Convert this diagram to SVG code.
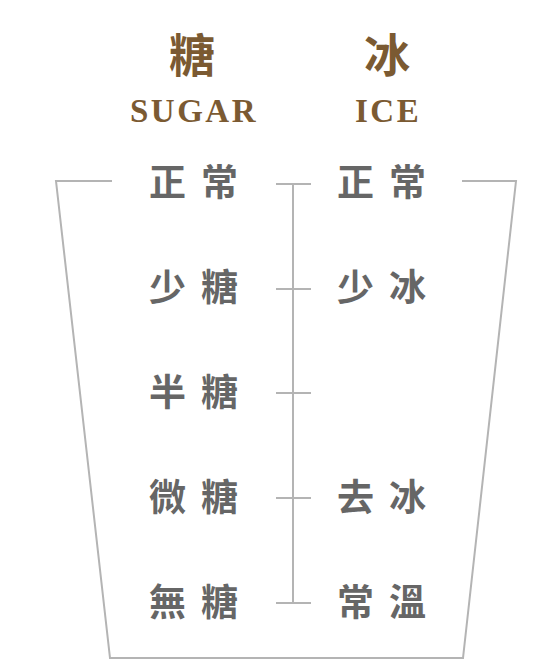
<svg xmlns="http://www.w3.org/2000/svg" width="560" height="670" viewBox="0 0 560 670">
<style>
.t{font-family:"Noto Sans CJK TC","Noto Sans CJK SC",sans-serif;font-weight:700;font-size:37px;fill:#666;letter-spacing:15px}
.h{font-family:"Noto Sans CJK TC","Noto Sans CJK SC",sans-serif;font-weight:700;font-size:46px;fill:#7b5a32;text-anchor:middle}
.e{font-family:"Liberation Serif",serif;font-weight:700;font-size:33px;fill:#7b5a32;letter-spacing:2.5px}
.l{stroke:#b4b4b4;stroke-width:2;fill:none}
</style>
<rect width="560" height="670" fill="#fff"/>
<g id="connectors">
<path class="l" d="M112 181H56L110 658H463L516 181H462"/>
<path class="l" d="M293 184V603M276 184H311M276 289H311M276 393H311M276 498H311M276 603H311"/>
</g>
<g id="header-sugar"><text class="h" x="192" y="72">糖</text><text class="e" x="130" y="122">SUGAR</text></g>
<g id="header-ice"><text class="h" x="387" y="72">冰</text><text class="e" x="355" y="122">ICE</text></g>
<g id="sugar-normal"><text class="t" x="149" y="196">正常</text></g>
<g id="sugar-less"><text class="t" x="149" y="301">少糖</text></g>
<g id="sugar-half"><text class="t" x="149" y="406">半糖</text></g>
<g id="sugar-little"><text class="t" x="149" y="511">微糖</text></g>
<g id="sugar-none"><text class="t" x="149" y="616">無糖</text></g>
<g id="ice-normal"><text class="t" x="337" y="196">正常</text></g>
<g id="ice-less"><text class="t" x="337" y="301">少冰</text></g>
<g id="ice-none"><text class="t" x="337" y="511">去冰</text></g>
<g id="ice-room"><text class="t" x="337" y="616">常溫</text></g>
</svg>
